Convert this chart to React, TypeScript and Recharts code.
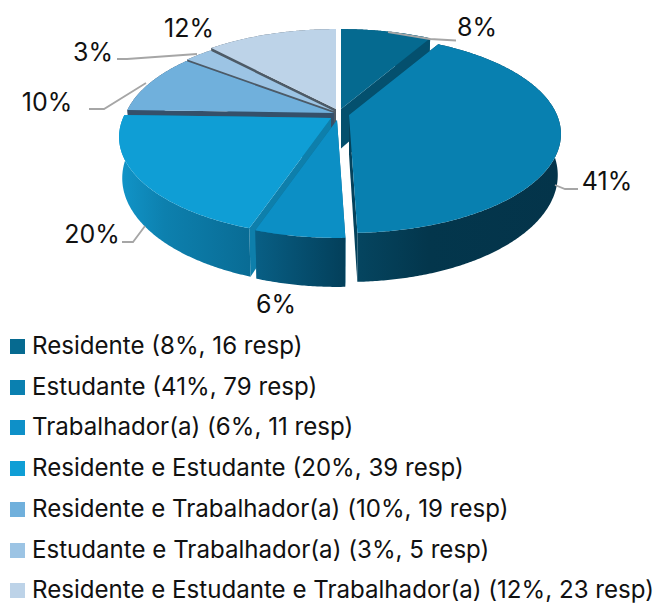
import React from 'react';
import { PieChart, Pie, Legend } from 'recharts';

// ---- data -----
const categories = [
  'Residente',
  'Estudante',
  'Trabalhador(a)',
  'Residente e Estudante',
  'Residente e Trabalhador(a)',
  'Estudante e Trabalhador(a)',
  'Residente e Estudante e Trabalhador(a)',
];
const respondents = [16, 79, 11, 39, 19, 5, 23];
const percents = [8, 41, 6, 20, 10, 3, 12];

// Back-to-front painting order of the slices (indices into categories)
const paintOrder = [0, 6, 5, 4, 3, 2, 1];
const pieData = paintOrder.map((i) => ({ name: categories[i], value: respondents[i], pct: percents[i], idx: i }));

// ---- styles / layout -----
const FONT = 'Inter, "Noto Sans", sans-serif';
const faceColors = ['#056a90', '#0880b0', '#0c8fc5', '#0f9ed5', '#70b0dc', '#9cc4e4', '#bdd3e8'];
const legendColors = ['#066a90', '#0a80b0', '#0e90c8', '#0f9ed5', '#70b0dc', '#9cc4e4', '#bdd3e8'];
const radialWallColors = ['#04506e', '#04425c', '#0a6a94', '#0e7fab', '#35506a', '#4d5a66', '#4d5a66'];
const outerWallStops = [
  [['0', '#04506e'], ['1', '#04506e']],
  [['0', '#054560'], ['0.35', '#03364c'], ['1', '#04344a']],
  [['0', '#085f85'], ['1', '#033f5a']],
  [['0', '#1195c9'], ['0.35', '#0d80ae'], ['1', '#096c95']],
  [['0', '#35506a'], ['1', '#35506a']],
  [['0', '#4d5a66'], ['1', '#4d5a66']],
  [['0', '#4d5a66'], ['1', '#4d5a66']],
];
const explode: [number, number][] = [[5, -3], [13, 3], [1, 8], [-5, 6], [-2, 1], [-1, -0.5], [0, -3]];
const labelSpots = [
  { x: 477, y: 27, line: [[388, 32], [430, 39], [456, 40.5]] },
  { x: 607, y: 181, line: [[555, 185], [565, 189], [578, 189]] },
  { x: 276, y: 304, line: [] },
  { x: 92, y: 234, line: [[145, 226], [133, 242], [122, 242]] },
  { x: 47, y: 102, line: [[146, 83], [104, 109], [89, 109]] },
  { x: 93, y: 52, line: [[197, 54], [127, 59], [117, 59]] },
  { x: 189, y: 28, line: [] },
];

const PERSPECTIVE = 0.192;
const FLATTEN = 0.458;
const DEPTH = 39.6;
const BASE_SHRINK = 0.985;
const RAD = Math.PI / 180;

function proj(cx: number, cy: number, R: number, a: number, r: number, bottom: boolean): [number, number] {
  const u = r * Math.cos(a * RAD);
  const v = r * Math.sin(a * RAD);
  const w = 1 + PERSPECTIVE * v;
  const s = bottom ? BASE_SHRINK : 1;
  return [cx + (s * R * u) / w, cy - (R * FLATTEN * v) / w + (bottom ? DEPTH / w : 0)];
}

const toPath = (pts: [number, number][]) =>
  'M' + pts.map((p) => `${p[0].toFixed(2)},${p[1].toFixed(2)}`).join('L') + 'Z';

function Slice3D(props: any) {
  const name = props.name ?? props.payload?.name;
  const idx = categories.indexOf(name);
  const [dx, dy] = explode[idx];
  const cx = props.cx + dx;
  const cy = props.cy + dy;
  const R = props.outerRadius;
  const a0 = Math.min(props.startAngle, props.endAngle);
  const a1 = Math.max(props.startAngle, props.endAngle);
  const angles: number[] = [];
  const n = Math.max(2, Math.ceil((a1 - a0) / 0.5));
  for (let i = 0; i <= n; i++) angles.push(a0 + ((a1 - a0) * i) / n);
  const topArc = angles.map((a) => proj(cx, cy, R, a, 1, false));
  const botArc = angles.map((a) => proj(cx, cy, R, a, 1, true));
  const apexTop = proj(cx, cy, R, 0, 0, false);
  const apexBot = proj(cx, cy, R, 0, 0, true);
  const xs = topArc.map((p) => p[0]);
  const gid = `wall-${idx}`;
  const wall0 = [apexTop, topArc[0], botArc[0], apexBot] as [number, number][];
  const wall1 = [apexTop, topArc[n], botArc[n], apexBot] as [number, number][];
  return (
    <g>
      <defs>
        <linearGradient id={gid} gradientUnits="userSpaceOnUse" x1={Math.min(...xs)} x2={Math.max(...xs)} y1={0} y2={0}>
          {outerWallStops[idx].map(([o, c]) => (
            <stop key={o} offset={o} stopColor={c} />
          ))}
        </linearGradient>
      </defs>
      <path d={toPath(wall0)} fill={radialWallColors[idx]} />
      <path d={toPath(wall1)} fill={radialWallColors[idx]} />
      <path d={toPath([...topArc, ...botArc.slice().reverse()])} fill={`url(#${gid})`} />
      <path d={toPath([apexTop, ...topArc])} fill={faceColors[idx]} />
    </g>
  );
}

function SliceLabel(props: any) {
  const name = props.name ?? props.payload?.name;
  const idx = categories.indexOf(name);
  const spot = labelSpots[idx];
  return (
    <g>
      {spot.line.length > 0 && (
        <polyline points={spot.line.map((p) => p.join(',')).join(' ')} fill="none" stroke="#a6a6a6" strokeWidth={1.8} />
      )}
      <text x={spot.x} y={spot.y} textAnchor="middle" dominantBaseline="central" fontFamily={FONT} fontSize={25} fill="#111">
        {`${percents[idx]}%`}
      </text>
    </g>
  );
}

function LegendList() {
  return (
    <div style={{ position: 'relative', width: 655, height: 268 }}>
      {categories.map((c, i) => (
        <div key={c} style={{ position: 'absolute', left: 0, top: i * 40.7, height: 30, width: 655, whiteSpace: 'nowrap' }}>
          <span style={{ position: 'absolute', left: 10, top: 9, width: 15, height: 15, background: legendColors[i] }} />
          <span style={{ position: 'absolute', left: 32, top: 0, fontFamily: FONT, fontSize: 24.1, lineHeight: '32px', color: '#111' }}>
            {`${c} (${percents[i]}%, ${respondents[i]} resp)`}
          </span>
        </div>
      ))}
    </div>
  );
}

export default function App() {
  return (
    <div style={{ position: 'absolute', left: 0, top: 0, width: 655, height: 603, background: '#fff' }}>
      <PieChart width={655} height={603} margin={{ top: 0, right: 0, bottom: 0, left: 0 }}>
        <Pie
          data={pieData}
          dataKey="value"
          nameKey="name"
          cx={336}
          cy={112}
          outerRadius={208}
          innerRadius={0}
          startAngle={60}
          endAngle={420}
          stroke="none"
          isAnimationActive={false}
          shape={Slice3D}
          inactiveShape={Slice3D}
          activeShape={Slice3D}
          label={SliceLabel}
          labelLine={false}
        />
        <Legend
          content={<LegendList />}
          wrapperStyle={{ position: 'absolute', left: 0, top: 330, bottom: 'auto', width: 655, height: 268 }}
        />
      </PieChart>
    </div>
  );
}
